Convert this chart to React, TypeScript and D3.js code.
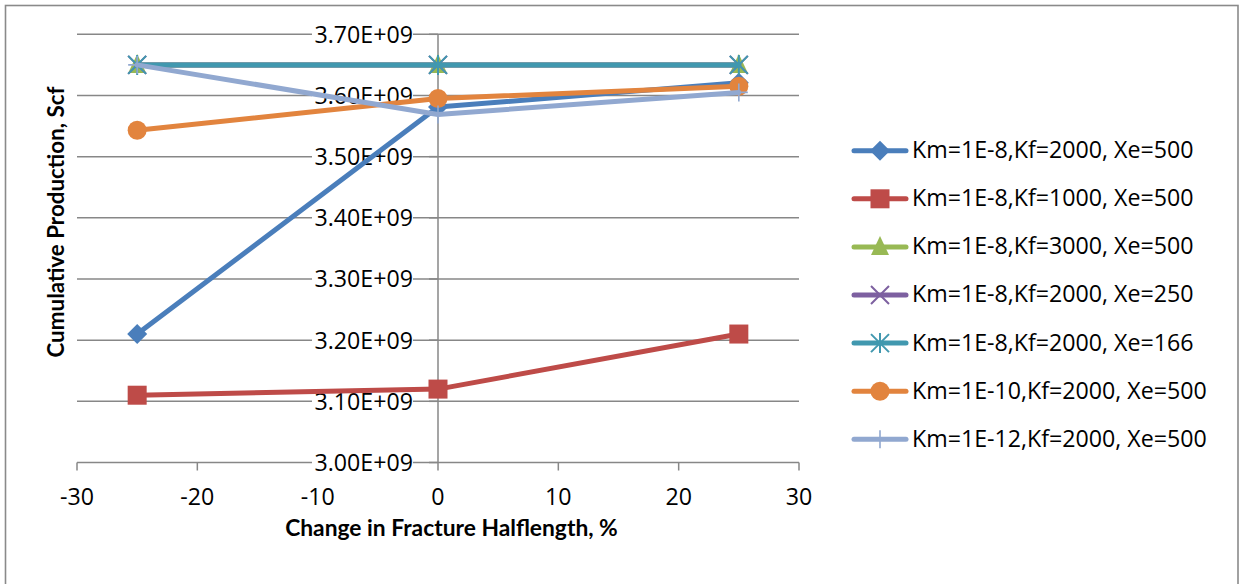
import React from "react";
import * as d3 from "d3";

// Change in fracture half-length (%)
const changes = [-25, 0, 25];

const seriesNames = [
  "Km=1E-8,Kf=2000, Xe=500",
  "Km=1E-8,Kf=1000, Xe=500",
  "Km=1E-8,Kf=3000, Xe=500",
  "Km=1E-8,Kf=2000, Xe=250",
  "Km=1E-8,Kf=2000, Xe=166",
  "Km=1E-10,Kf=2000, Xe=500",
  "Km=1E-12,Kf=2000, Xe=500",
];

// Cumulative production (scf) per series at each change value
const kf2000xe500 = [3.21e9, 3.581e9, 3.621e9];
const kf1000xe500 = [3.11e9, 3.12e9, 3.21e9];
const kf3000xe500 = [3.65e9, 3.65e9, 3.65e9];
const kf2000xe250 = [3.65e9, 3.65e9, 3.65e9];
const kf2000xe166 = [3.65e9, 3.65e9, 3.65e9];
const km1e10 = [3.543e9, 3.595e9, 3.615e9];
const km1e12 = [3.65e9, 3.569e9, 3.605e9];

const seriesValues = [kf2000xe500, kf1000xe500, kf3000xe500, kf2000xe250, kf2000xe166, km1e10, km1e12];
const seriesColors = ["#4A7EBB", "#BE4B48", "#98B954", "#7D60A0", "#4198AF", "#E2843E", "#91A8D0"];
const markerKinds = ["diamond", "square", "triangle", "x", "star", "circle", "plus"];

const xTicks = [-30, -20, -10, 0, 10, 20, 30];
const yTicks = [3.0e9, 3.1e9, 3.2e9, 3.3e9, 3.4e9, 3.5e9, 3.6e9, 3.7e9];
const yTickLabels = ["3.00E+09", "3.10E+09", "3.20E+09", "3.30E+09", "3.40E+09", "3.50E+09", "3.60E+09", "3.70E+09"];

const FONT = "'Open Sans', 'Liberation Sans', sans-serif";
const TITLE_FONT = "Lato, 'Open Sans', sans-serif";
const GRID = "#878787";
const LABEL_SIZE = 23.2;

function Marker({ kind, x, y, color }: { kind: string; x: number; y: number; color: string }) {
  const s = 9;
  switch (kind) {
    case "diamond":
      return <path d={`M${x},${y - 10}L${x + 10},${y}L${x},${y + 10}L${x - 10},${y}Z`} fill={color} />;
    case "square":
      return <rect x={x - 9.5} y={y - 9.5} width={19} height={19} fill={color} />;
    case "triangle":
      return <path d={`M${x},${y - 11}L${x + 9},${y + 8}L${x - 9},${y + 8}Z`} fill={color} />;
    case "x":
      return (
        <path d={`M${x - s},${y - s}L${x + s},${y + s}M${x - s},${y + s}L${x + s},${y - s}`} stroke={color} strokeWidth={2} />
      );
    case "star":
      return (
        <path
          d={`M${x - s},${y - s}L${x + s},${y + s}M${x - s},${y + s}L${x + s},${y - s}M${x},${y - s - 1}L${x},${y + s + 1}`}
          stroke={color}
          strokeWidth={2}
        />
      );
    case "circle":
      return <circle cx={x} cy={y} r={9.5} fill={color} />;
    case "plus":
      return <path d={`M${x - s},${y}L${x + s},${y}M${x},${y - s}L${x},${y + s}`} stroke={color} strokeWidth={1.6} />;
    default:
      return null;
  }
}

export default function App() {
  const width = 1241;
  const height = 584;

  const x = d3.scaleLinear().domain([-30, 30]).range([77, 799]);
  const y = d3.scaleLinear().domain([3.0e9, 3.7e9]).range([462.5, 34.3]);

  const line = d3
    .line<number>()
    .x((_, i) => x(changes[i]))
    .y((v) => y(v));

  const legendY0 = 150.7;
  const legendStep = 48.1;

  return (
    <svg
      width={width}
      height={height}
      style={{ position: "absolute", left: 0, top: 0, background: "#fff" }}
      fontFamily={FONT}
    >
      <rect x={5.5} y={5.5} width={1232.5} height={640} fill="#fff" stroke="#8a8a8a" strokeWidth={1.6} />

      {/* horizontal gridlines */}
      {yTicks.map((t) => (
        <line key={`g${t}`} x1={x(-30)} x2={x(30)} y1={y(t)} y2={y(t)} stroke={GRID} strokeWidth={1.5} />
      ))}

      {/* value axis at x = 0 with ticks */}
      <line x1={x(0)} x2={x(0)} y1={y(3.7e9)} y2={y(3.0e9)} stroke={GRID} strokeWidth={1.5} />
      {yTicks.map((t) => (
        <line key={`yt${t}`} x1={x(0) - 9} x2={x(0)} y1={y(t)} y2={y(t)} stroke={GRID} strokeWidth={1.5} />
      ))}
      {/* category axis ticks */}
      {xTicks.map((t) => (
        <line key={`xt${t}`} x1={x(t)} x2={x(t)} y1={y(3.0e9)} y2={y(3.0e9) + 8} stroke={GRID} strokeWidth={1.5} />
      ))}

      {/* value labels sit on the gridlines */}
      {yTicks.map((t, i) => (
        <g key={`yl${t}`}>
          <rect x={312} y={y(t) - 10} width={101} height={20} fill="#fff" />
          <text x={413} y={y(t)} dy="0.36em" textAnchor="end" fontSize={LABEL_SIZE} fill="#000">
            {yTickLabels[i]}
          </text>
        </g>
      ))}

      {xTicks.map((t) => (
        <text key={`xl${t}`} x={x(t)} y={505} textAnchor="middle" fontSize={LABEL_SIZE} fill="#000">
          {t}
        </text>
      ))}

      <text x={451.5} y={535.5} textAnchor="middle" fontSize={22.8} fontWeight="bold" fill="#000" fontFamily={TITLE_FONT}>
        Change in Fracture Halflength, %
      </text>
      <text
        transform={`translate(64,222) rotate(-90)`}
        textAnchor="middle"
        fontSize={22.4}
        fontWeight="bold"
        fill="#000"
        fontFamily={TITLE_FONT}
      >
        Cumulative Production, Scf
      </text>

      {/* series */}
      {seriesValues.map((vals, si) => (
        <g key={`s${si}`}>
          <path
            d={line(vals) || ""}
            fill="none"
            stroke={seriesColors[si]}
            strokeWidth={5}
            strokeLinejoin="round"
            strokeLinecap="round"
          />
          {vals.map((v, i) => (
            <Marker key={i} kind={markerKinds[si]} x={x(changes[i])} y={y(v)} color={seriesColors[si]} />
          ))}
        </g>
      ))}

      {/* legend */}
      {seriesNames.map((name, i) => {
        const ly = legendY0 + i * legendStep;
        return (
          <g key={`lg${i}`}>
            <line x1={854} x2={906} y1={ly} y2={ly} stroke={seriesColors[i]} strokeWidth={5} strokeLinecap="round" />
            <Marker kind={markerKinds[i]} x={880} y={ly} color={seriesColors[i]} />
            <text x={912} y={ly} dy="0.32em" fontSize={LABEL_SIZE} fill="#000">
              {name}
            </text>
          </g>
        );
      })}
    </svg>
  );
}
